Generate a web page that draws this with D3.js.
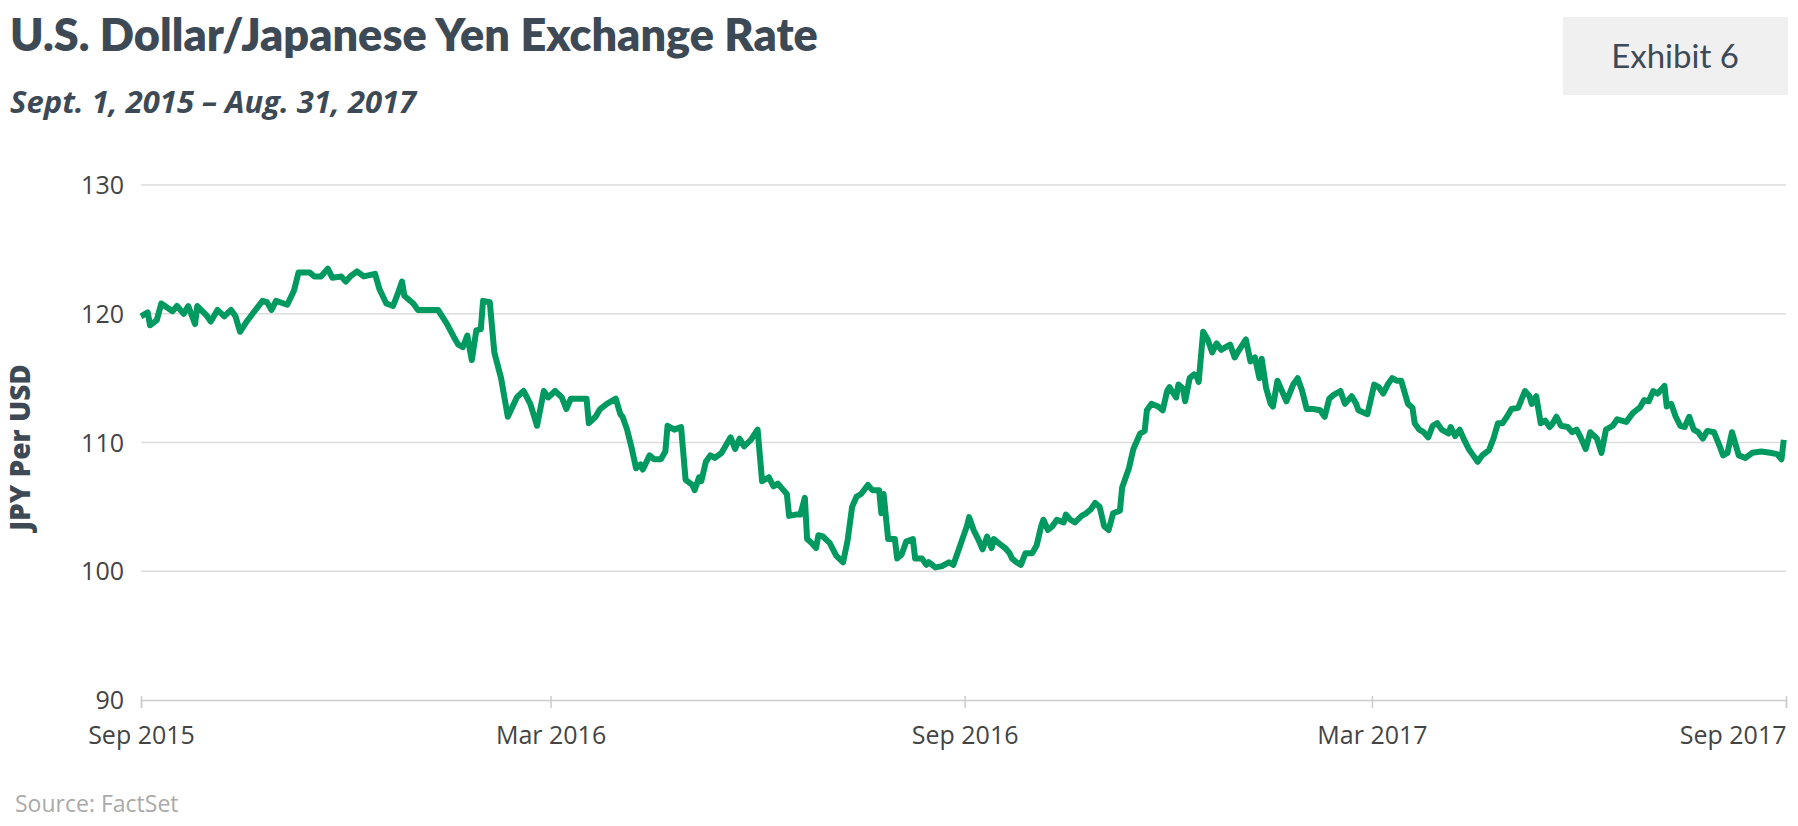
<!DOCTYPE html>
<html><head><meta charset="utf-8">
<script src="https://cdn.jsdelivr.net/npm/d3@7"></script>
<style>body{margin:0;background:#fff}svg{display:block}</style>
</head><body><svg id="c" width="1798" height="826"></svg>
<script>
const startDate = "2015-09-01";
const dayOffsets = [0,3,4,7,9,14,16,19,21,24,25,29,31,34,37,40,42,44,47,50,54,56,58,60,65,68,70,75,77,80,83,85,89,91,93,96,99,104,106,109,112,114,116,117,121,123,129,132,136,139,141,143,145,147,149,151,152,155,157,160,163,167,170,173,176,179,181,184,187,189,191,195,198,199,202,204,207,211,213,214,216,218,220,222,223,226,228,231,233,234,237,240,242,245,246,248,249,251,253,255,258,262,264,266,268,271,274,276,279,281,283,285,287,288,291,293,295,296,298,300,301,303,306,309,312,314,316,318,320,323,325,328,329,330,332,335,336,338,340,343,344,347,349,350,353,356,359,361,363,366,367,368,370,372,374,376,378,379,381,384,386,387,389,391,393,396,398,400,401,403,405,407,410,411,413,415,418,420,422,424,426,428,430,432,435,436,439,441,444,446,447,449,452,454,456,457,460,461,463,464,466,468,469,470,472,474,476,478,480,482,484,486,488,491,493,495,497,498,500,502,503,505,507,509,512,514,516,518,521,524,526,528,530,533,535,538,540,541,545,548,550,552,554,556,558,560,563,565,566,568,570,572,574,576,578,581,582,584,586,588,590,592,594,596,599,601,603,605,607,609,612,615,617,618,620,622,624,626,627,629,631,634,636,638,640,642,644,647,649,651,654,656,658,660,663,666,668,670,672,674,677,678,680,682,684,686,688,690,692,694,696,699,702,703,705,707,710,713,716,720,724,727,729,730];
const rates = [119.8,120.1,119.1,119.5,120.8,120.2,120.6,120.0,120.6,119.2,120.6,119.9,119.4,120.3,119.8,120.3,119.8,118.6,119.4,120.1,121.0,120.9,120.3,121.0,120.7,121.8,123.2,123.2,122.9,122.9,123.5,122.8,122.9,122.5,122.9,123.3,122.9,123.1,121.9,120.8,120.6,121.5,122.5,121.4,120.8,120.3,120.3,120.3,119.2,118.2,117.6,117.4,118.3,116.4,118.7,118.8,121.0,120.9,117.0,115.0,112.0,113.5,114.0,113.0,111.3,114.0,113.5,114.0,113.5,112.6,113.4,113.4,113.4,111.5,112.0,112.6,113.0,113.4,112.2,112.0,111.0,109.6,108.0,108.3,107.9,109.0,108.7,108.7,109.3,111.3,111.0,111.2,107.1,106.7,106.3,107.3,107.0,108.5,109.0,108.8,109.2,110.4,109.5,110.3,109.7,110.2,111.0,107.0,107.3,106.6,106.8,106.4,106.0,104.3,104.4,104.4,105.7,102.5,102.2,101.8,102.8,102.7,102.2,101.2,100.7,102.4,105.0,105.8,106.0,106.7,106.3,106.3,104.5,106.0,102.5,102.5,101.0,101.3,102.3,102.5,101.0,101.0,100.5,100.7,100.3,100.4,100.7,100.5,101.5,103.0,103.5,104.2,103.2,102.5,101.7,102.7,101.8,102.5,102.2,101.8,101.4,101.0,100.7,100.5,101.4,101.4,102.0,103.5,104.0,103.2,103.5,104.0,103.8,104.4,104.0,103.8,104.3,104.5,104.8,105.3,105.0,103.5,103.2,104.5,104.7,106.5,108.0,109.5,110.7,110.9,112.5,113.0,112.8,112.5,114.0,114.3,113.5,114.5,114.2,113.2,115.0,115.3,115.2,114.7,118.6,118.0,117.0,117.7,117.2,117.4,117.6,116.6,117.2,118.0,116.3,116.6,115.0,116.5,114.2,113.0,112.8,114.8,114.0,113.2,114.5,115.0,114.0,112.6,112.6,112.5,112.0,113.4,113.7,114.0,113.0,113.6,113.0,112.5,112.2,114.5,114.3,113.8,114.5,115.0,114.8,114.8,113.0,112.7,111.5,111.0,110.8,110.4,111.3,111.5,111.0,110.7,111.2,110.5,111.0,110.2,109.5,109.0,108.5,109.0,109.4,110.3,111.5,111.5,112.0,112.6,112.7,114.0,113.6,113.0,113.6,111.5,111.7,111.2,111.4,112.0,111.3,111.2,110.8,111.0,110.3,109.5,110.8,110.3,109.2,111.0,111.3,111.8,111.7,111.6,112.3,112.7,113.3,113.2,114.0,113.8,114.4,112.8,113.0,112.0,111.3,111.2,112.0,111.0,110.8,110.3,110.9,110.8,109.5,109.0,109.2,110.8,109.0,108.8,109.2,109.3,109.2,109.1,108.7,110.2];
const yTicks = [90,100,110,120,130];
const xTickDates = ["2015-09-01","2016-03-01","2016-09-01","2017-03-01","2017-09-01"];
const xTickLabels = ["Sep 2015","Mar 2016","Sep 2016","Mar 2017","Sep 2017"];

const parse = d3.utcParse("%Y-%m-%d");
const s0 = parse(startDate);
const data = dayOffsets.map((d,i)=>({date:d3.utcDay.offset(s0,d), v:rates[i]}));
const svg = d3.select("#c");
const L=141,R=1786,T=185,B=700;
const x = d3.scaleUtc().domain([s0, parse("2017-09-01")]).range([L,R]);
const y = d3.scaleLinear().domain([90,130]).range([B,T]);
const F = "'Open Sans', sans-serif";

svg.append("text").attr("x",10).attr("y",51).attr("font-family","Lato, 'Open Sans', sans-serif").attr("font-weight",800).attr("font-size",45).attr("fill","#3d4a56").text("U.S. Dollar/Japanese Yen Exchange Rate");
svg.append("text").attr("x",10).attr("y",113).attr("font-family",F).attr("font-style","italic").attr("font-weight",700).attr("font-size",31).attr("fill","#3d4a56").text("Sept. 1, 2015 – Aug. 31, 2017");
svg.append("rect").attr("x",1563).attr("y",17).attr("width",225).attr("height",78).attr("fill","#f0f0f0");
svg.append("text").attr("x",1675).attr("y",68).attr("text-anchor","middle").attr("font-family","Lato, 'Open Sans', sans-serif").attr("font-size",33).attr("fill","#3d4a56").text("Exhibit 6");

svg.append("g").selectAll("line").data(yTicks.slice(1)).join("line")
  .attr("x1",L).attr("x2",R).attr("y1",d=>y(d)).attr("y2",d=>y(d)).attr("stroke","#dcdcdc").attr("stroke-width",1.3);
svg.append("g").selectAll("text").data(yTicks).join("text")
  .attr("x",124).attr("y",d=>y(d)+9).attr("text-anchor","end").attr("font-family",F).attr("font-size",25).attr("fill","#444").text(d=>d);
const xa = d3.axisBottom(x).tickValues(xTickDates.map(parse)).tickFormat((d,i)=>xTickLabels[i]).tickSize(8).tickPadding(18);
const g = svg.append("g").attr("transform",`translate(0,${B})`).call(xa);
g.select(".domain").attr("stroke","#ccc").attr("stroke-width",1.5);
g.selectAll(".tick line").attr("stroke","#ccc").attr("stroke-width",1.5).attr("y1",-4);
g.selectAll(".tick text").attr("font-family",F).attr("font-size",25).attr("fill","#444")
  .attr("text-anchor",(d,i)=>i===xTickLabels.length-1?"end":"middle");
svg.append("text").attr("transform",`translate(30,${(T+B)/2+5}) rotate(-90)`).attr("text-anchor","middle").attr("font-family",F).attr("font-weight",800).attr("font-size",28).attr("fill","#3d4a56").text("JPY Per USD");
svg.append("path").datum(data).attr("fill","none").attr("stroke","#00995f").attr("stroke-width",6).attr("stroke-linejoin","round")
  .attr("d",d3.line().x(d=>x(d.date)).y(d=>y(d.v)));
svg.append("text").attr("x",15).attr("y",812).attr("font-family",F).attr("font-size",23).attr("fill","#aaa").text("Source: FactSet");
</script></body></html>
